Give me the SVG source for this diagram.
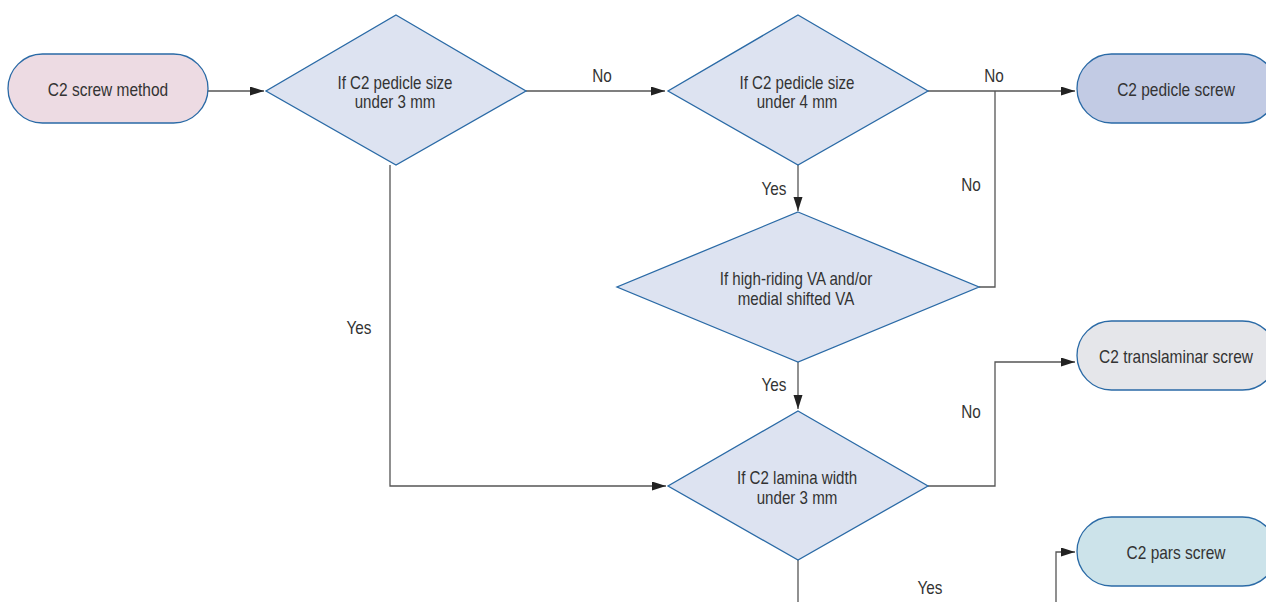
<svg xmlns="http://www.w3.org/2000/svg" width="1266" height="602" viewBox="0 0 1266 602">
<defs>
<marker id="arr" markerUnits="userSpaceOnUse" markerWidth="15" markerHeight="10" refX="14" refY="4.5" orient="auto">
<path d="M0,0 L14,4.5 L0,9 z" fill="#222"/>
</marker>
<style>
.term{stroke:#2a6aa6;stroke-width:1.3}
.dia{fill:#dde3f1;stroke:#2a6aa6;stroke-width:1.3}
text{font-family:"Liberation Sans",Arial,sans-serif;font-size:18px;fill:#333;text-anchor:middle}
.conn path{fill:none;stroke:#555;stroke-width:1.3}
</style>
</defs>
<rect width="1266" height="602" fill="#fff"/>
<g class="conn">
<path d="M208,91 H264" marker-end="url(#arr)"/>
<path d="M526,91 H665" marker-end="url(#arr)"/>
<path d="M928,91 H1075" marker-end="url(#arr)"/>
<path d="M979,287 H995 V91"/>
<path d="M798,165 V211" marker-end="url(#arr)"/>
<path d="M798,362 V409" marker-end="url(#arr)"/>
<path d="M390,165 V486 H666" marker-end="url(#arr)"/>
<path d="M928,486 H995 V362 H1075" marker-end="url(#arr)"/>
<path d="M798,560 V602"/>
<path d="M1056,602 V552 H1075" marker-end="url(#arr)"/>
<text transform="translate(602,82) scale(0.85,1)">No</text>
<text transform="translate(994,82) scale(0.85,1)">No</text>
<text transform="translate(774,195) scale(0.85,1)">Yes</text>
<text transform="translate(971,191) scale(0.85,1)">No</text>
<text transform="translate(359,334) scale(0.85,1)">Yes</text>
<text transform="translate(774,391) scale(0.85,1)">Yes</text>
<text transform="translate(971,418) scale(0.85,1)">No</text>
<text transform="translate(930,594) scale(0.85,1)">Yes</text>
</g>
<g id="start">
<rect class="term" x="8" y="54" width="200" height="69" rx="34.5" fill="#eddbe3"/>
<text transform="translate(108,96) scale(0.86,1)">C2 screw method</text>
</g>
<g id="d1">
<polygon class="dia" points="396,15 526,91 396,165 266,91"/>
<text transform="translate(395,89) scale(0.84,1)">If C2 pedicle size</text>
<text transform="translate(395,108) scale(0.84,1)">under 3 mm</text>
</g>
<g id="d2">
<polygon class="dia" points="798,15 928,91 798,165 668,91"/>
<text transform="translate(797,89) scale(0.84,1)">If C2 pedicle size</text>
<text transform="translate(797,108) scale(0.84,1)">under 4 mm</text>
</g>
<g id="pedicle">
<rect class="term" x="1077" y="54" width="200" height="69" rx="34.5" fill="#c2cbe4"/>
<text transform="translate(1176,96) scale(0.86,1)">C2 pedicle screw</text>
</g>
<g id="d3">
<polygon class="dia" points="798,212 979,287 798,362 617,287"/>
<text transform="translate(796,285) scale(0.84,1)">If high-riding VA and/or</text>
<text transform="translate(796,305) scale(0.84,1)">medial shifted VA</text>
</g>
<g id="translaminar">
<rect class="term" x="1077" y="321" width="200" height="69" rx="34.5" fill="#e5e6ea"/>
<text transform="translate(1176,363) scale(0.86,1)">C2 translaminar screw</text>
</g>
<g id="d4">
<polygon class="dia" points="798,411 928,486 798,560 668,486"/>
<text transform="translate(797,484) scale(0.84,1)">If C2 lamina width</text>
<text transform="translate(797,504) scale(0.84,1)">under 3 mm</text>
</g>
<g id="pars">
<rect class="term" x="1077" y="517" width="200" height="69" rx="34.5" fill="#cce3ea"/>
<text transform="translate(1176,559) scale(0.86,1)">C2 pars screw</text>
</g>
</svg>
